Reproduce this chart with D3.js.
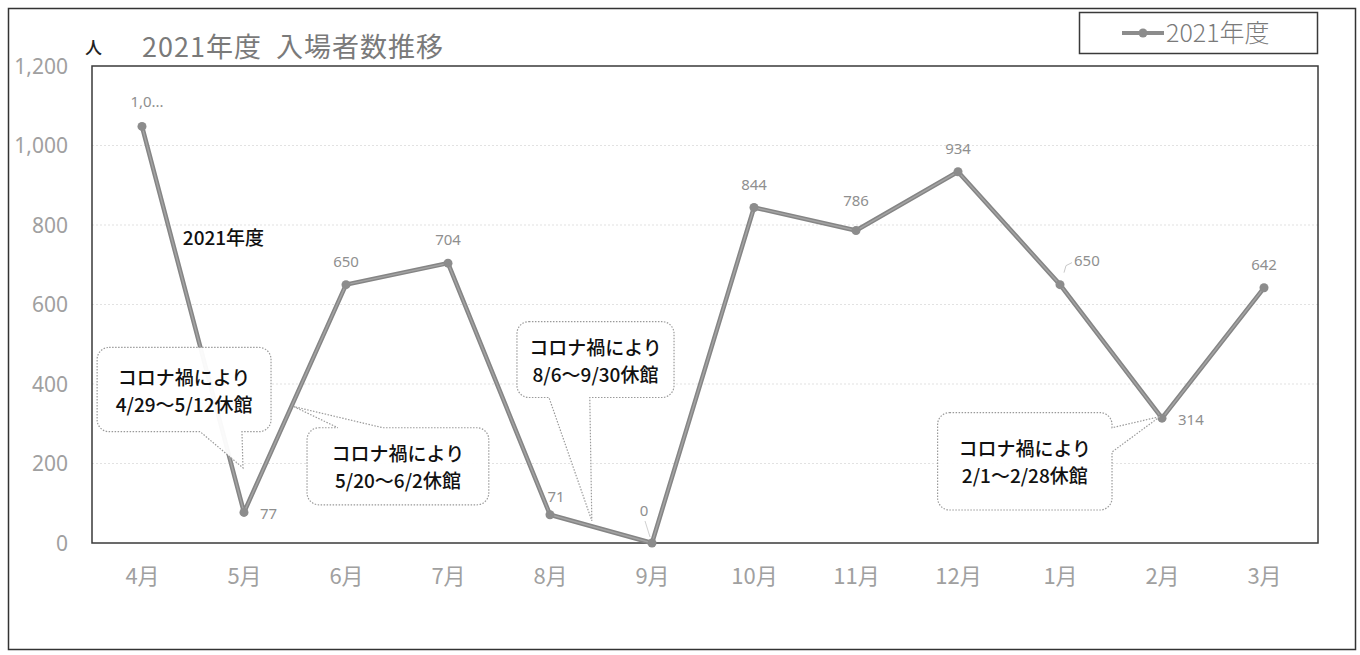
<!DOCTYPE html>
<html><head><meta charset="utf-8">
<script src="https://cdn.jsdelivr.net/npm/d3@7"></script>
<style>
html,body{margin:0;padding:0;background:#fff;}
svg{display:block;}
</style></head>
<body>
<svg id="chart" width="1360" height="655"></svg>
<script>
const categories = ["4月","5月","6月","7月","8月","9月","10月","11月","12月","1月","2月","3月"];
const values2021 = [1048, 77, 650, 704, 71, 0, 844, 786, 934, 650, 314, 642];
const dataLabels = ["1,0...", "77", "650", "704", "71", "0", "844", "786", "934", "650", "314", "642"];
const labelPlacement = ["top","right","top","top","topright","topleft","top","top","top","leader","right","top"];
const yTicks = [0, 200, 400, 600, 800, 1000, 1200];
const seriesName = "2021年度";
const chartTitle = "2021年度  入場者数推移";
const unitLabel = "人";
// callouts: box in (category index, value) space, pointer base & tip
const callouts = [
  {lines:["コロナ禍により","4/29～5/12休館"], i0:-0.44, i1:1.265, vTop:492, vBot:280, side:"bottom", a:0.57, b:0.98, tipI:0.99, tipV:189},
  {lines:["コロナ禍により","5/20～6/2休館"], i0:1.618, i1:3.40, vTop:290, vBot:96, side:"top", a:1.92, b:2.36, tipI:1.49, tipV:343},
  {lines:["コロナ禍により","8/6～9/30休館"], i0:3.676, i1:5.216, vTop:557, vBot:366, side:"bottom", a:3.99, b:4.39, tipI:4.41, tipV:56},
  {lines:["コロナ禍により","2/1～2/28休館"], i0:7.80, i1:9.51, vTop:328, vBot:83, side:"right", a:290, b:229, tipI:9.98, tipV:318}
];

const svg = d3.select("#chart");
const plot = {left: 92, right: 1318, top: 66, bottom: 543};
const jp = "'Noto Sans CJK JP','Noto Sans',sans-serif";

// outer border
svg.append("rect").attr("x",8.5).attr("y",8.5).attr("width",1347).attr("height",641)
  .attr("fill","#fff").attr("stroke","#333").attr("stroke-width",1.5);

const x = d3.scalePoint().domain(categories).range([142, 1264]);
const xi = d3.scaleLinear().domain([0, categories.length-1]).range([142, 1264]);
const y = d3.scaleLinear().domain([0, 1200]).range([plot.bottom, plot.top]);

// gridlines
svg.append("g").selectAll("line").data(yTicks.filter(t=>t>0 && t<1200)).join("line")
  .attr("x1",plot.left).attr("x2",plot.right).attr("y1",d=>y(d)).attr("y2",d=>y(d))
  .attr("stroke","#e2e2e2").attr("stroke-width",1.2).attr("stroke-dasharray","2,2");

// plot box
svg.append("rect").attr("x",plot.left).attr("y",plot.top).attr("width",plot.right-plot.left).attr("height",plot.bottom-plot.top)
  .attr("fill","none").attr("stroke","#3a3a3a").attr("stroke-width",1.5);

// y axis labels
const yAxis = d3.axisLeft(y).tickValues(yTicks).tickFormat(d3.format(",")).tickSize(0).tickPadding(0);
const gy = svg.append("g").attr("transform","translate(68,0)").call(yAxis);
gy.select(".domain").remove();
gy.selectAll("text").attr("font-family","'Noto Sans',sans-serif").attr("font-size",21).attr("fill","#a0a0a0").attr("dy","0.35em");

// x axis labels
const xAxis = d3.axisBottom(x).tickSize(0).tickPadding(0);
const gx = svg.append("g").attr("transform","translate(0,567)").call(xAxis);
gx.select(".domain").remove();
gx.selectAll("text").attr("font-family",jp).attr("font-size",22).attr("fill","#a0a0a0").attr("dy","0.75em");

// title
svg.append("text").attr("x",85).attr("y",54).attr("font-family",jp).attr("font-size",17).attr("font-weight",500).attr("fill","#222").text(unitLabel);
svg.append("text").attr("x",142).attr("y",57).attr("font-family",jp).attr("font-size",27).attr("letter-spacing",1).attr("fill","#7a7a7a")
  .attr("xml:space","preserve").style("white-space","pre").text(chartTitle);

// legend
svg.append("rect").attr("x",1079.5).attr("y",12.5).attr("width",238).attr("height",41).attr("fill","#fff").attr("stroke","#3a3a3a").attr("stroke-width",1.5);
svg.append("line").attr("x1",1122).attr("x2",1164).attr("y1",33).attr("y2",33).attr("stroke","#8c8c8c").attr("stroke-width",4);
svg.append("circle").attr("cx",1143).attr("cy",33).attr("r",4.5).attr("fill","#8c8c8c");
svg.append("text").attr("x",1166).attr("y",42).attr("font-family",jp).attr("font-size",25).attr("font-weight",300).attr("fill","#7a7a7a").text(seriesName);

// line
const line = d3.line().x((d,i)=>x(categories[i])).y(d=>y(d));
svg.append("path").datum(values2021).attr("d",line).attr("fill","none")
  .attr("stroke","#858585").attr("stroke-width",4.5).attr("stroke-linejoin","round");
svg.append("path").datum(values2021).attr("d",line).attr("fill","none")
  .attr("stroke","#a3a3a3").attr("stroke-width",1.5).attr("stroke-linejoin","round");
svg.append("g").selectAll("circle").data(values2021).join("circle")
  .attr("cx",(d,i)=>x(categories[i])).attr("cy",d=>y(d)).attr("r",4.5).attr("fill","#8c8c8c");

// data labels
const lab = svg.append("g").attr("font-family","'Noto Sans',sans-serif").attr("font-size",15).attr("fill","#8f8f8f");
values2021.forEach((v,i)=>{
  const px = x(categories[i]), py = y(v);
  let tx=px, ty=py-18, anchor="middle";
  const p = labelPlacement[i];
  if (p==="right") { tx = px+16; ty = py+7; anchor="start"; }
  if (p==="top" && i===0) { ty = py-19; tx = px+5; }
  if (p==="top" && i===7) { ty = py-25; }
  if (p==="topright") { tx = px+6; ty = py-13; }
  if (p==="topleft") { tx = px-8; ty = py-27; }
  if (p==="leader") {
    svg.append("polyline").attr("points",`${px+4},${py-12} ${px+6},${py-19} ${px+12},${py-22}`)
      .attr("fill","none").attr("stroke","#c8c8c8").attr("stroke-width",1);
    tx = px+14; ty = py-19; anchor="start";
  }
  if (p==="topleft") {
    svg.append("line").attr("x1",px-7).attr("y1",py-22).attr("x2",px-2).attr("y2",py-6)
      .attr("stroke","#d0d0d0").attr("stroke-width",1);
  }
  lab.append("text").attr("x",tx).attr("y",ty).attr("text-anchor",anchor).text(dataLabels[i]);
});

// stray series name label
svg.append("text").attr("x",xi(0.40)).attr("y",y(749)).attr("font-family",jp).attr("font-size",19).attr("font-weight",500).attr("fill","#111").text(seriesName);

// callouts
function calloutPath(c){
  const X0 = xi(c.i0), X1 = xi(c.i1), Y0 = y(c.vTop), Y1 = y(c.vBot), r = 12;
  const tx = xi(c.tipI), ty = y(c.tipV);
  const p = d3.path();
  p.moveTo(X0+r, Y0);
  if (c.side==="top"){ p.lineTo(xi(c.a),Y0); p.lineTo(tx,ty); p.lineTo(xi(c.b),Y0); }
  p.lineTo(X1-r, Y0); p.arcTo(X1, Y0, X1, Y0+r, r);
  if (c.side==="right"){ p.lineTo(X1, y(c.a)); p.lineTo(tx,ty); p.lineTo(X1, y(c.b)); }
  p.lineTo(X1, Y1-r); p.arcTo(X1, Y1, X1-r, Y1, r);
  if (c.side==="bottom"){ p.lineTo(xi(c.b),Y1); p.lineTo(tx,ty); p.lineTo(xi(c.a),Y1); }
  p.lineTo(X0+r, Y1); p.arcTo(X0, Y1, X0, Y1-r, r);
  p.lineTo(X0, Y0+r); p.arcTo(X0, Y0, X0+r, Y0, r);
  p.closePath();
  return p.toString();
}
const cg = svg.append("g");
callouts.forEach(c=>{
  cg.append("path").attr("d",calloutPath(c)).attr("fill","#fff").attr("fill-opacity",0.95)
    .attr("stroke","#9a9a9a").attr("stroke-width",1.2).attr("stroke-dasharray","1.5,1.5");
  const cx = (xi(c.i0)+xi(c.i1))/2, cy = (y(c.vTop)+y(c.vBot))/2;
  c.lines.forEach((t,k)=>{
    cg.append("text").attr("x",cx).attr("y",cy + (k===0 ? -5 : 22)).attr("text-anchor","middle")
      .attr("font-family",jp).attr("font-size",19).attr("font-weight",500).attr("fill","#111").text(t);
  });
});
</script>
</body></html>
